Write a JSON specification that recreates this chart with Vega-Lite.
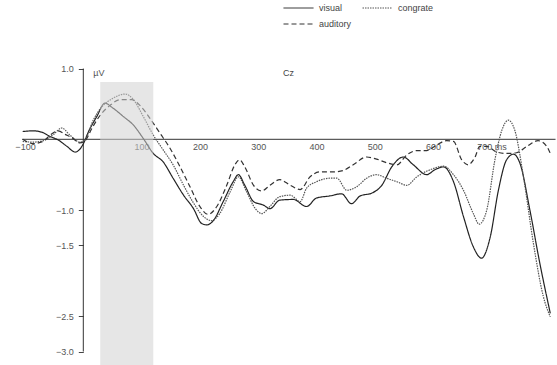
{
  "$schema": "https://vega.github.io/schema/vega-lite/v6.json",
  "width": 557,
  "height": 365,
  "autosize": "none",
  "padding": 0,
  "background": "white",
  "config": {
    "view": {"stroke": null},
    "font": "Liberation Sans",
    "axis": {"labelFont": "Liberation Sans", "titleFont": "Liberation Sans", "grid": false},
    "legend": {"labelFont": "Liberation Sans"}
  },
  "datasets": {
    "window": [{"start": 29, "end": 120, "top": 0.81, "bottom": -3.19}],
    "erp": [
      {"ms": -104, "v": 0.11, "cond": "visual"}, {"ms": -86, "v": 0.12, "cond": "visual"}, {"ms": -71, "v": 0.10, "cond": "visual"}, {"ms": -57, "v": 0.04, "cond": "visual"}, {"ms": -43, "v": -0.01, "cond": "visual"}, {"ms": -28, "v": -0.10, "cond": "visual"}, {"ms": -14, "v": -0.18, "cond": "visual"}, {"ms": -1, "v": -0.08, "cond": "visual"}, {"ms": 9, "v": 0.11, "cond": "visual"}, {"ms": 23, "v": 0.32, "cond": "visual"}, {"ms": 37, "v": 0.51, "cond": "visual"}, {"ms": 51, "v": 0.44, "cond": "visual"}, {"ms": 69, "v": 0.32, "cond": "visual"}, {"ms": 86, "v": 0.20, "cond": "visual"}, {"ms": 103, "v": 0.01, "cond": "visual"}, {"ms": 120, "v": -0.20, "cond": "visual"}, {"ms": 137, "v": -0.32, "cond": "visual"}, {"ms": 154, "v": -0.55, "cond": "visual"}, {"ms": 172, "v": -0.79, "cond": "visual"}, {"ms": 189, "v": -0.98, "cond": "visual"}, {"ms": 203, "v": -1.19, "cond": "visual"}, {"ms": 212, "v": -1.21, "cond": "visual"}, {"ms": 223, "v": -1.15, "cond": "visual"}, {"ms": 240, "v": -0.88, "cond": "visual"}, {"ms": 257, "v": -0.60, "cond": "visual"}, {"ms": 266, "v": -0.50, "cond": "visual"}, {"ms": 277, "v": -0.65, "cond": "visual"}, {"ms": 292, "v": -0.88, "cond": "visual"}, {"ms": 309, "v": -0.93, "cond": "visual"}, {"ms": 320, "v": -0.98, "cond": "visual"}, {"ms": 337, "v": -0.86, "cond": "visual"}, {"ms": 360, "v": -0.85, "cond": "visual"}, {"ms": 383, "v": -0.95, "cond": "visual"}, {"ms": 400, "v": -0.83, "cond": "visual"}, {"ms": 423, "v": -0.80, "cond": "visual"}, {"ms": 443, "v": -0.77, "cond": "visual"}, {"ms": 460, "v": -0.91, "cond": "visual"}, {"ms": 475, "v": -0.80, "cond": "visual"}, {"ms": 495, "v": -0.76, "cond": "visual"}, {"ms": 512, "v": -0.65, "cond": "visual"}, {"ms": 529, "v": -0.39, "cond": "visual"}, {"ms": 549, "v": -0.25, "cond": "visual"}, {"ms": 566, "v": -0.36, "cond": "visual"}, {"ms": 589, "v": -0.50, "cond": "visual"}, {"ms": 603, "v": -0.43, "cond": "visual"}, {"ms": 618, "v": -0.39, "cond": "visual"}, {"ms": 635, "v": -0.60, "cond": "visual"}, {"ms": 652, "v": -1.09, "cond": "visual"}, {"ms": 669, "v": -1.52, "cond": "visual"}, {"ms": 683, "v": -1.68, "cond": "visual"}, {"ms": 698, "v": -1.38, "cond": "visual"}, {"ms": 712, "v": -0.72, "cond": "visual"}, {"ms": 726, "v": -0.29, "cond": "visual"}, {"ms": 738, "v": -0.21, "cond": "visual"}, {"ms": 749, "v": -0.34, "cond": "visual"}, {"ms": 766, "v": -1.00, "cond": "visual"}, {"ms": 783, "v": -1.75, "cond": "visual"}, {"ms": 801, "v": -2.46, "cond": "visual"},
      {"ms": -104, "v": -0.03, "cond": "congrate"}, {"ms": -86, "v": -0.04, "cond": "congrate"}, {"ms": -69, "v": -0.02, "cond": "congrate"}, {"ms": -51, "v": 0.07, "cond": "congrate"}, {"ms": -37, "v": 0.16, "cond": "congrate"}, {"ms": -23, "v": 0.06, "cond": "congrate"}, {"ms": -6, "v": -0.04, "cond": "congrate"}, {"ms": 3, "v": -0.01, "cond": "congrate"}, {"ms": 17, "v": 0.27, "cond": "congrate"}, {"ms": 32, "v": 0.46, "cond": "congrate"}, {"ms": 51, "v": 0.58, "cond": "congrate"}, {"ms": 72, "v": 0.64, "cond": "congrate"}, {"ms": 86, "v": 0.56, "cond": "congrate"}, {"ms": 103, "v": 0.32, "cond": "congrate"}, {"ms": 120, "v": 0.06, "cond": "congrate"}, {"ms": 137, "v": -0.15, "cond": "congrate"}, {"ms": 154, "v": -0.36, "cond": "congrate"}, {"ms": 172, "v": -0.65, "cond": "congrate"}, {"ms": 189, "v": -0.90, "cond": "congrate"}, {"ms": 206, "v": -1.09, "cond": "congrate"}, {"ms": 220, "v": -1.15, "cond": "congrate"}, {"ms": 234, "v": -1.05, "cond": "congrate"}, {"ms": 252, "v": -0.74, "cond": "congrate"}, {"ms": 266, "v": -0.53, "cond": "congrate"}, {"ms": 280, "v": -0.74, "cond": "congrate"}, {"ms": 295, "v": -0.98, "cond": "congrate"}, {"ms": 306, "v": -1.05, "cond": "congrate"}, {"ms": 320, "v": -0.95, "cond": "congrate"}, {"ms": 337, "v": -0.81, "cond": "congrate"}, {"ms": 355, "v": -0.79, "cond": "congrate"}, {"ms": 372, "v": -0.88, "cond": "congrate"}, {"ms": 383, "v": -0.69, "cond": "congrate"}, {"ms": 400, "v": -0.60, "cond": "congrate"}, {"ms": 423, "v": -0.55, "cond": "congrate"}, {"ms": 435, "v": -0.55, "cond": "congrate"}, {"ms": 452, "v": -0.72, "cond": "congrate"}, {"ms": 469, "v": -0.67, "cond": "congrate"}, {"ms": 486, "v": -0.55, "cond": "congrate"}, {"ms": 503, "v": -0.50, "cond": "congrate"}, {"ms": 520, "v": -0.55, "cond": "congrate"}, {"ms": 538, "v": -0.60, "cond": "congrate"}, {"ms": 555, "v": -0.65, "cond": "congrate"}, {"ms": 572, "v": -0.53, "cond": "congrate"}, {"ms": 595, "v": -0.43, "cond": "congrate"}, {"ms": 618, "v": -0.38, "cond": "congrate"}, {"ms": 635, "v": -0.50, "cond": "congrate"}, {"ms": 652, "v": -0.72, "cond": "congrate"}, {"ms": 669, "v": -1.05, "cond": "congrate"}, {"ms": 679, "v": -1.20, "cond": "congrate"}, {"ms": 692, "v": -1.00, "cond": "congrate"}, {"ms": 706, "v": -0.29, "cond": "congrate"}, {"ms": 718, "v": 0.13, "cond": "congrate"}, {"ms": 729, "v": 0.27, "cond": "congrate"}, {"ms": 740, "v": 0.13, "cond": "congrate"}, {"ms": 755, "v": -0.53, "cond": "congrate"}, {"ms": 772, "v": -1.47, "cond": "congrate"}, {"ms": 789, "v": -2.22, "cond": "congrate"}, {"ms": 801, "v": -2.51, "cond": "congrate"},
      {"ms": -104, "v": 0.00, "cond": "auditory"}, {"ms": -86, "v": -0.06, "cond": "auditory"}, {"ms": -69, "v": -0.03, "cond": "auditory"}, {"ms": -57, "v": 0.06, "cond": "auditory"}, {"ms": -43, "v": 0.12, "cond": "auditory"}, {"ms": -31, "v": 0.07, "cond": "auditory"}, {"ms": -19, "v": 0.02, "cond": "auditory"}, {"ms": -6, "v": -0.05, "cond": "auditory"}, {"ms": 3, "v": -0.02, "cond": "auditory"}, {"ms": 15, "v": 0.16, "cond": "auditory"}, {"ms": 29, "v": 0.34, "cond": "auditory"}, {"ms": 46, "v": 0.48, "cond": "auditory"}, {"ms": 63, "v": 0.56, "cond": "auditory"}, {"ms": 83, "v": 0.56, "cond": "auditory"}, {"ms": 97, "v": 0.48, "cond": "auditory"}, {"ms": 114, "v": 0.30, "cond": "auditory"}, {"ms": 132, "v": 0.08, "cond": "auditory"}, {"ms": 149, "v": -0.13, "cond": "auditory"}, {"ms": 166, "v": -0.39, "cond": "auditory"}, {"ms": 183, "v": -0.67, "cond": "auditory"}, {"ms": 200, "v": -0.95, "cond": "auditory"}, {"ms": 214, "v": -1.06, "cond": "auditory"}, {"ms": 229, "v": -0.95, "cond": "auditory"}, {"ms": 246, "v": -0.65, "cond": "auditory"}, {"ms": 260, "v": -0.36, "cond": "auditory"}, {"ms": 268, "v": -0.29, "cond": "auditory"}, {"ms": 277, "v": -0.39, "cond": "auditory"}, {"ms": 292, "v": -0.65, "cond": "auditory"}, {"ms": 306, "v": -0.73, "cond": "auditory"}, {"ms": 320, "v": -0.65, "cond": "auditory"}, {"ms": 337, "v": -0.57, "cond": "auditory"}, {"ms": 355, "v": -0.65, "cond": "auditory"}, {"ms": 372, "v": -0.71, "cond": "auditory"}, {"ms": 389, "v": -0.53, "cond": "auditory"}, {"ms": 406, "v": -0.46, "cond": "auditory"}, {"ms": 429, "v": -0.46, "cond": "auditory"}, {"ms": 446, "v": -0.44, "cond": "auditory"}, {"ms": 463, "v": -0.36, "cond": "auditory"}, {"ms": 486, "v": -0.25, "cond": "auditory"}, {"ms": 503, "v": -0.28, "cond": "auditory"}, {"ms": 520, "v": -0.33, "cond": "auditory"}, {"ms": 538, "v": -0.36, "cond": "auditory"}, {"ms": 555, "v": -0.22, "cond": "auditory"}, {"ms": 572, "v": -0.16, "cond": "auditory"}, {"ms": 589, "v": -0.16, "cond": "auditory"}, {"ms": 606, "v": -0.08, "cond": "auditory"}, {"ms": 623, "v": -0.02, "cond": "auditory"}, {"ms": 635, "v": -0.03, "cond": "auditory"}, {"ms": 649, "v": -0.29, "cond": "auditory"}, {"ms": 660, "v": -0.36, "cond": "auditory"}, {"ms": 672, "v": -0.25, "cond": "auditory"}, {"ms": 680, "v": -0.10, "cond": "auditory"}, {"ms": 692, "v": -0.10, "cond": "auditory"}, {"ms": 709, "v": -0.18, "cond": "auditory"}, {"ms": 726, "v": -0.20, "cond": "auditory"}, {"ms": 743, "v": -0.19, "cond": "auditory"}, {"ms": 761, "v": -0.10, "cond": "auditory"}, {"ms": 780, "v": -0.02, "cond": "auditory"}, {"ms": 795, "v": -0.10, "cond": "auditory"}, {"ms": 802, "v": -0.22, "cond": "auditory"}
    ]
  },
  "layer": [
    {
      "data": {"values": [{}]},
      "mark": {"type": "rule", "color": "#333333", "strokeWidth": 1},
      "encoding": {
        "x": {"datum": -105, "type": "quantitative", "scale": {"domain": [-142.9, 812.5], "nice": false, "zero": false}},
        "x2": {"datum": 810},
        "y": {"datum": 0, "type": "quantitative", "scale": {"domain": [-3.19, 1.969], "nice": false, "zero": false}}
      }
    },
    {
      "data": {"values": [{}]},
      "mark": {"type": "rule", "color": "#333333", "strokeWidth": 1},
      "encoding": {
        "x": {"datum": 0, "type": "quantitative"},
        "y": {"datum": 1, "type": "quantitative"},
        "y2": {"datum": -3}
      }
    },
    {
      "data": {"name": "erp"},
      "mark": {"type": "line", "interpolate": "monotone", "strokeWidth": 1.2},
      "encoding": {
        "x": {
          "field": "ms", "type": "quantitative",
          "axis": {
            "orient": "bottom", "offset": -225.7, "values": [-100, 100, 200, 300, 400, 500, 600, 700],
            "format": "d", "labelExpr": "datum.value == 700 ? '700 ms' : datum.label",
            "domain": false, "ticks": false, "labelPadding": 3, "labelFontSize": 9, "labelColor": "#555555",
            "title": "Cz", "titleFontSize": 9, "titleFontWeight": "normal", "titleColor": "#444444",
            "titleX": 288, "titleY": -67, "titleBaseline": "middle", "titleAlign": "center"
          }
        },
        "y": {
          "field": "v", "type": "quantitative",
          "axis": {
            "orient": "left", "offset": -83.3, "values": [1, -1, -1.5, -2.5, -3], "format": ".1f",
            "domain": false, "ticks": true, "tickSize": 5, "tickColor": "#444444", "labelPadding": 5,
            "labelFontSize": 9, "labelColor": "#555555",
            "title": "µV", "titleAngle": 0, "titleFontSize": 9, "titleFontWeight": "normal", "titleColor": "#555555",
            "titleX": 15, "titleY": 72, "titleBaseline": "middle", "titleAlign": "center"
          }
        },
        "color": {
          "field": "cond", "type": "nominal",
          "scale": {"domain": ["visual", "congrate", "auditory"], "range": ["#222222", "#555555", "#333333"]},
          "legend": {
            "title": null, "orient": "none", "legendX": 283, "legendY": 2, "columns": 2, "direction": "horizontal",
            "columnPadding": 10, "rowPadding": 4, "clipHeight": 12, "symbolType": "stroke", "symbolSize": 900,
            "symbolStrokeWidth": 1, "labelFontSize": 9, "labelColor": "#444444", "labelOffset": 5
          }
        },
        "strokeDash": {
          "field": "cond", "type": "nominal",
          "scale": {"domain": ["visual", "congrate", "auditory"], "range": [[1, 0], [1.5, 1], [5, 3]]},
          "legend": {
            "title": null, "orient": "none", "legendX": 283, "legendY": 2, "columns": 2, "direction": "horizontal",
            "columnPadding": 10, "rowPadding": 4, "clipHeight": 12, "symbolType": "stroke", "symbolSize": 900,
            "symbolStrokeWidth": 1, "labelFontSize": 9, "labelColor": "#444444", "labelOffset": 5
          }
        }
      }
    },
    {
      "data": {"name": "window"},
      "mark": {"type": "rect", "color": "#d2d2d2", "opacity": 0.55},
      "encoding": {
        "x": {"field": "start", "type": "quantitative"},
        "x2": {"field": "end"},
        "y": {"field": "top", "type": "quantitative"},
        "y2": {"field": "bottom"}
      }
    }
  ]
}
